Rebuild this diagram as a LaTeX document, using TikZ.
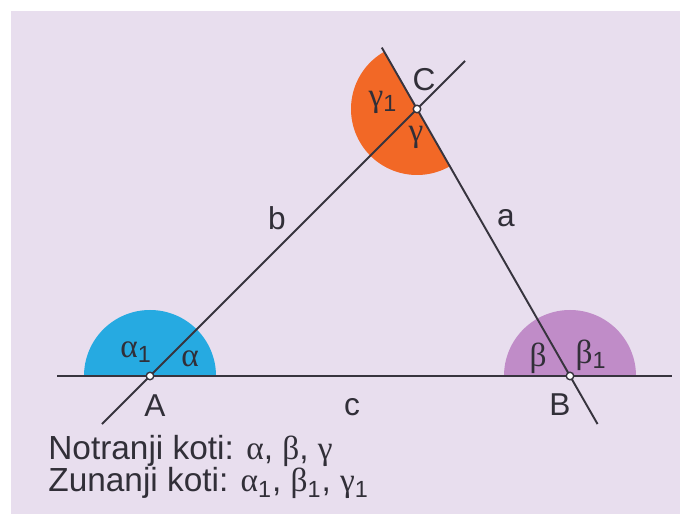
\documentclass[tikz,border=0pt]{standalone}
\usepackage{fontspec}
\setmainfont{Liberation Sans}
\newfontfamily\greekfont{Liberation Serif}
\usetikzlibrary{calc, positioning}
\definecolor{colorBack}{RGB}{232, 222, 238}
\definecolor{colorAlpha}{RGB}{38, 170, 225}
\definecolor{colorBeta}{RGB}{192, 140, 200}
\definecolor{colorGamma}{RGB}{242, 104, 38}
\definecolor{colorLine}{RGB}{55, 52, 62}
\newcommand{\gra}{{\greekfont α}}
\newcommand{\grb}{{\greekfont β}}
\newcommand{\grg}{{\greekfont γ}}

\begin{document}
\begin{tikzpicture}[
  ln/.style={draw=colorLine,line width=1.1pt},
  dot/.style={circle,draw=colorLine,fill=white,line width=0.8pt,
    inner sep=0pt,minimum size=0.15cm},
  lbl/.style={font=\fontsize{18}{21}\selectfont,text=colorLine!90!black,inner sep=1pt},
  glbl/.style={font=\fontsize{19}{21}\selectfont,text=colorLine!90!black,inner sep=1pt},
  txt/.style={font=\fontsize{19}{22}\selectfont,text=colorLine!90!black,inner sep=0pt},
]

% Background
\useasboundingbox (0,0) rectangle (13.6,10.28);
\fill[colorBack] (0.22,-0.1) rectangle (13.7,10.06);

% Vertices
\coordinate (A) at (3.0,2.76);
\coordinate (B) at (11.4,2.76);
\coordinate (C) at (8.34,8.10);

% Angle sectors
\fill[colorAlpha] (A) -- ++(0:1.32) arc[start angle=0,end angle=180,radius=1.32] -- cycle;
\fill[colorBeta] (B) -- ++(0:1.32) arc[start angle=0,end angle=180,radius=1.32] -- cycle;
\fill[colorGamma] (C) -- ++(119.8:1.32) arc[start angle=119.8,end angle=299.8,radius=1.32] -- cycle;

% Lines
\draw[ln] (1.14,2.76) coordinate (cl) -- (13.44,2.76) coordinate (cr);
\draw[ln] ($(A)!-0.18!(C)$) -- ($(A)!1.18!(C)$);
\draw[ln] ($(B)!-0.18!(C)$) -- ($(B)!1.23!(C)$);

% Vertex points
\node[dot] (dotA) at (A) {};
\node[dot] (dotB) at (B) {};
\node[dot] (dotC) at (C) {};

% Vertex and side labels
\node[lbl] (labA) at ($(A)+(0.1,-0.6)$) {A};
\node[lbl] (labB) at ($(B)+(-0.2,-0.58)$) {B};
\node[lbl] (labC) at ($(C)+(0.14,0.58)$) {C};
\node[lbl] (laba) at (10.12,5.92) {a};
\node[lbl] (labb) at (5.54,5.92) {b};
\node[lbl] (labc) at (7.04,2.14) {c};

% Angle labels
\node[glbl] (alpha) at ($(A)+(0.8,0.34)$) {\gra};
\node[glbl] (alpha1) at ($(A)+(-0.28,0.48)$) {\gra\textsubscript{1}};
\node[glbl] (beta) at ($(B)+(-0.64,0.36)$) {\grb};
\node[glbl] (beta1) at ($(B)+(0.42,0.42)$) {\grb\textsubscript{1}};
\node[glbl] (gamma) at ($(C)+(-0.02,-0.56)$) {\grg};
\node[glbl] (gamma1) at ($(C)+(-0.68,0.14)$) {\grg\textsubscript{1}};

% Legend
\node[txt,anchor=base west] (inner) at (0.96,1.09) {Notranji koti: \gra, \grb, \grg};
\node[txt,anchor=base west] (outer) at ($(inner.base west)+(0,-0.65)$)
  {Zunanji koti: \gra\textsubscript{1}, \grb\textsubscript{1}, \grg\textsubscript{1}};

\end{tikzpicture}
\end{document}
